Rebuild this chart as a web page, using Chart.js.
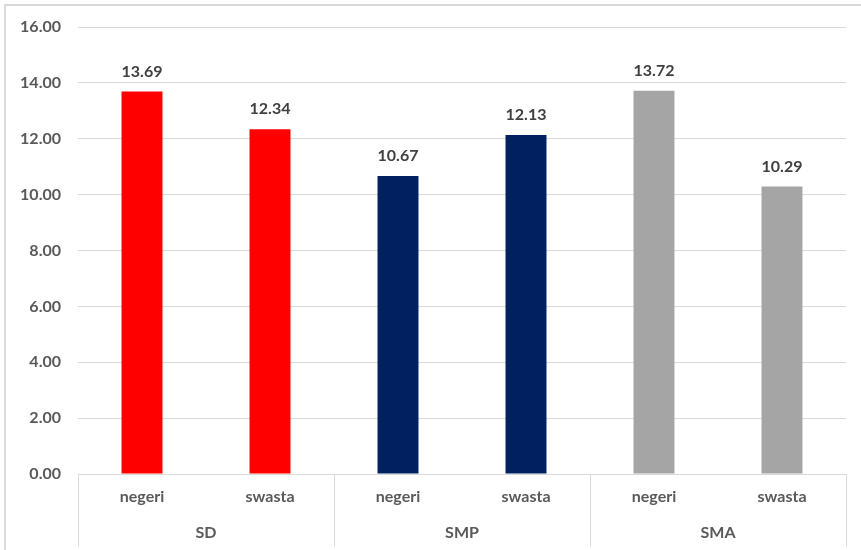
<!DOCTYPE html>
<html>
<head>
<meta charset="utf-8">
<script src="https://cdn.jsdelivr.net/npm/chart.js@4"></script>
<style>
  html, body { margin: 0; padding: 0; background: #fff; overflow: hidden; }
  #wrap { position: relative; width: 861px; height: 550px; }
  #frame { position: absolute; left: 4px; top: 4px; width: 900px; height: 600px;
           border-left: 2px solid #d9d9d9; border-top: 2px solid #d9d9d9; }
  canvas { position: absolute; left: 0; top: 0; }
</style>
</head>
<body>
<div id="wrap">
  <div id="frame"></div>
  <canvas id="chart" width="861" height="550"></canvas>
</div>
<script>
// data
const types = ["negeri", "swasta", "negeri", "swasta", "negeri", "swasta"];
const groups = ["SD", "SMP", "SMA"];
const values = [13.69, 12.34, 10.67, 12.13, 13.72, 10.29];
const barColors = ["#ff0000", "#ff0000", "#002060", "#002060", "#a5a5a5", "#a5a5a5"];

const FONT = "Lato, 'Open Sans', sans-serif";
const TEXT = "#595959";

// value labels above each bar
const valueLabels = {
  id: "valueLabels",
  afterDatasetsDraw(chart) {
    const ctx = chart.ctx;
    const meta = chart.getDatasetMeta(0);
    ctx.save();
    ctx.font = "bold 16px " + FONT;
    ctx.fillStyle = "#404040";
    ctx.textAlign = "center";
    ctx.textBaseline = "middle";
    meta.data.forEach((bar, i) => {
      ctx.fillText(values[i].toFixed(2), bar.x, bar.y - 20);
    });
    ctx.restore();
  }
};

// second level of the category axis: separators + group names
const groupAxis = {
  id: "groupAxis",
  afterDraw(chart) {
    const ctx = chart.ctx;
    const x = chart.scales.x;
    const area = chart.chartArea;
    const per = types.length / groups.length;
    const half = (x.getPixelForValue(1) - x.getPixelForValue(0)) / 2;
    ctx.save();
    ctx.strokeStyle = "#d9d9d9";
    ctx.lineWidth = 1;
    for (let g = 0; g <= groups.length; g++) {
      const px = Math.round(x.getPixelForValue(g * per) - half) + 0.5;
      ctx.beginPath();
      ctx.moveTo(px, area.bottom);
      ctx.lineTo(px, chart.height - 4);
      ctx.stroke();
    }
    ctx.font = "bold 16px " + FONT;
    ctx.fillStyle = TEXT;
    ctx.textAlign = "center";
    ctx.textBaseline = "middle";
    groups.forEach((name, g) => {
      const a = x.getPixelForValue(g * per) - half;
      const b = x.getPixelForValue((g + 1) * per - 1) + half;
      ctx.fillText(name, (a + b) / 2, area.bottom + 59);
    });
    ctx.restore();
  }
};

new Chart(document.getElementById("chart"), {
  type: "bar",
  data: {
    labels: types,
    datasets: [{
      data: values,
      backgroundColor: barColors,
      categoryPercentage: 1,
      barPercentage: 0.32
    }]
  },
  options: {
    responsive: false,
    animation: false,
    layout: { padding: { top: 27, right: 15, left: 0, bottom: 0 } },
    plugins: { legend: { display: false }, tooltip: { enabled: false } },
    scales: {
      x: {
        grid: { display: false, drawTicks: false },
        border: { display: false },
        ticks: { color: TEXT, font: { family: FONT, size: 16, weight: "bold" }, padding: 13 },
        afterFit(s) { s.height = 76; }
      },
      y: {
        min: 0,
        max: 16,
        ticks: {
          stepSize: 2,
          color: TEXT,
          font: { family: FONT, size: 16, weight: "bold" },
          padding: 17,
          callback: v => v.toFixed(2)
        },
        grid: { color: "#d9d9d9", drawTicks: false },
        border: { display: false },
        afterFit(s) { s.width = 78; }
      }
    }
  },
  plugins: [valueLabels, groupAxis]
});
</script>
</body>
</html>
